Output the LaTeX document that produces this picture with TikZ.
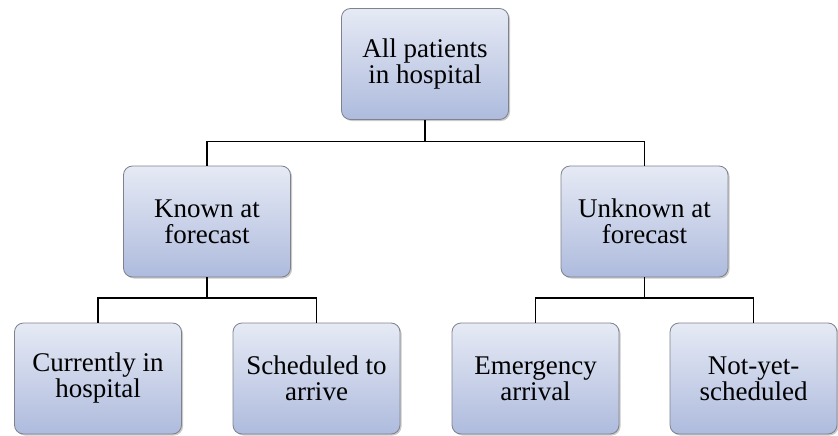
\documentclass[tikz,border=0pt]{standalone}
\usepackage{fontspec}
\setmainfont{Liberation Serif}
\usetikzlibrary{shadows}
\definecolor{boxtop}{RGB}{230,234,245}
\definecolor{boxbot}{RGB}{174,187,221}
\definecolor{boxline}{RGB}{125,130,140}
\tikzset{
  box/.style={rounded corners=9pt, draw=boxline, line width=0.8pt,
    top color=boxtop, bottom color=boxbot,
    minimum width=167pt, minimum height=111pt, inner sep=0pt,
    align=center, font=\fontsize{27}{26}\selectfont,
    drop shadow={shadow xshift=1.5pt, shadow yshift=-1.5pt, opacity=0.35, fill=black!60}},
  conn/.style={draw=black, line width=1.3pt}
}
\begin{document}
\begin{tikzpicture}[x=1pt,y=-1pt]
\useasboundingbox (0,0) rectangle (838,436);
\node[box] (top) at (425,64) {All patients\\in hospital};
\node[box] (known) at (207,221.5) {Known at\\forecast};
\node[box] (unknown) at (644.5,221.5) {Unknown at\\forecast};
\node[box] (cur) at (98,378.5) {Currently in\\hospital};
\node[box] (sched) at (316.5,378.5) {Scheduled to\\arrive};
\node[box] (emer) at (535.5,378.5) {Emergency\\arrival};
\node[box] (nys) at (753.5,378.5) {Not-yet-\\scheduled};
\coordinate (bus1) at (425,141.5);
\coordinate (bus2) at (207,298);
\coordinate (bus3) at (644.5,298);
\draw[conn] (top.south) -- (bus1);
\draw[conn] (known.north) |- (bus1) -| (unknown.north);
\draw[conn] (known.south) -- (bus2);
\draw[conn] (cur.north) |- (bus2) -| (sched.north);
\draw[conn] (unknown.south) -- (bus3);
\draw[conn] (emer.north) |- (bus3) -| (nys.north);
\end{tikzpicture}
\end{document}
